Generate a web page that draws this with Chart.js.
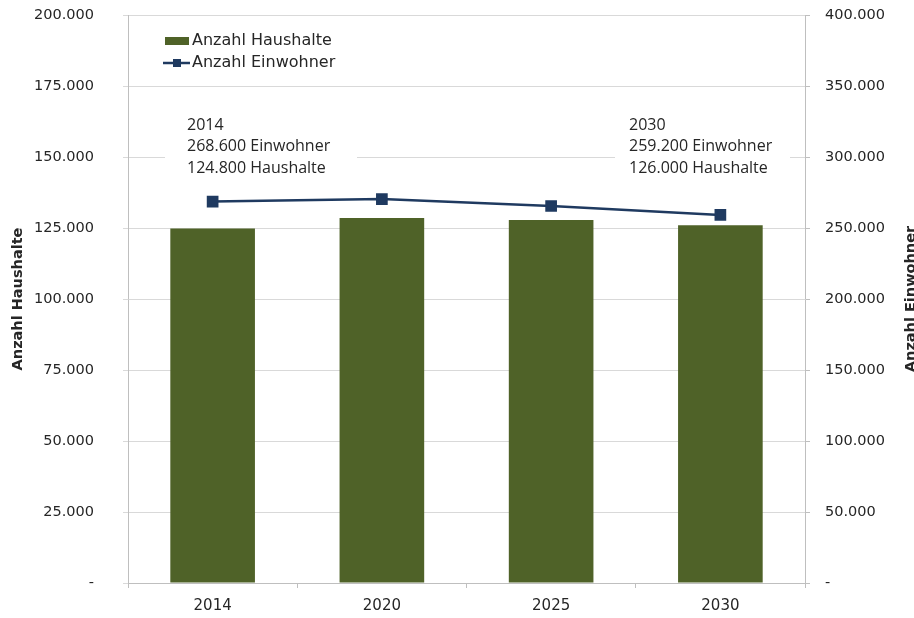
<!DOCTYPE html>
<html>
<head>
<meta charset="utf-8">
<script src="https://cdn.jsdelivr.net/npm/chart.js@4/dist/chart.umd.min.js"></script>
<style>
  html, body { margin: 0; padding: 0; background: #fff; overflow: hidden; }
  #wrap { width: 914px; height: 618px; }
</style>
</head>
<body>
<div id="wrap"><canvas id="chart" width="914" height="618"></canvas></div>
<script>
// data
const years = ['2014', '2020', '2025', '2030'];
const haushalte = [124800, 128500, 127800, 126000];
const einwohner = [268600, 270400, 265500, 259200];
const leftTicks = ['-', '25.000', '50.000', '75.000', '100.000', '125.000', '150.000', '175.000', '200.000'];
const rightTicks = ['-', '50.000', '100.000', '150.000', '200.000', '250.000', '300.000', '350.000', '400.000'];
const noteStart = ['2014', '268.600 Einwohner', '124.800 Haushalte'];
const noteEnd = ['2030', '259.200 Einwohner', '126.000 Haushalte'];

const green = '#4f6228';
const navy = '#1f3a60';
const gridCol = '#d9d9d9';
const axisCol = '#bfbfbf';
const textCol = '#262626';
const tickFont = { family: 'DejaVu Sans', size: 14.5 };

// no extra room for the tick labels, the plot box is fixed
function noPad(scale) {
    scale.paddingTop = 0;
    scale.paddingBottom = 0;
    scale.paddingLeft = 0;
    scale.paddingRight = 0;
}

// legend, notes and right axis title drawn on top
const extras = {
    id: 'extras',
    afterDraw(chart) {
        const ctx = chart.ctx;
        ctx.save();

        // white boxes behind the notes
        ctx.fillStyle = '#fff';
        ctx.fillRect(165, 112, 192, 68);
        ctx.fillRect(615, 112, 175, 68);

        ctx.fillStyle = textCol;
        ctx.font = '16px "Open Sans"';
        ctx.textBaseline = 'middle';
        ctx.textAlign = 'left';
        noteStart.forEach((t, i) => ctx.fillText(t, 187, 125 + i * 21.5));
        noteEnd.forEach((t, i) => ctx.fillText(t, 629, 125 + i * 21.5));

        // legend
        ctx.font = '16px "DejaVu Sans"';
        ctx.fillStyle = green;
        ctx.fillRect(165, 37, 24, 8);
        ctx.strokeStyle = navy;
        ctx.lineWidth = 2.5;
        ctx.beginPath();
        ctx.moveTo(163, 63);
        ctx.lineTo(190, 63);
        ctx.stroke();
        ctx.fillStyle = navy;
        ctx.fillRect(173, 59, 8, 8);
        ctx.fillStyle = textCol;
        ctx.fillText('Anzahl Haushalte', 192, 41);
        ctx.fillText('Anzahl Einwohner', 192, 63);

        // right axis title, reading bottom to top
        ctx.font = 'bold 14.5px "DejaVu Sans"';
        ctx.textAlign = 'center';
        ctx.translate(911, 299);
        ctx.rotate(-Math.PI / 2);
        ctx.fillText('Anzahl Einwohner', 0, 0);
        ctx.restore();
    }
};

new Chart(document.getElementById('chart').getContext('2d'), {
    data: {
        labels: years,
        datasets: [
            {
                type: 'line',
                label: 'Anzahl Einwohner',
                data: einwohner,
                yAxisID: 'y1',
                borderColor: navy,
                backgroundColor: navy,
                borderWidth: 2.5,
                pointStyle: 'rect',
                pointRadius: 6.5,
                pointHoverRadius: 6.5,
                tension: 0,
                order: 0
            },
            {
                type: 'bar',
                label: 'Anzahl Haushalte',
                data: haushalte,
                yAxisID: 'y',
                backgroundColor: green,
                categoryPercentage: 1,
                barPercentage: 0.5,
                order: 1
            }
        ]
    },
    options: {
        responsive: false,
        devicePixelRatio: 1,
        animation: false,
        layout: { padding: { top: 15, left: 0, right: 0, bottom: 0 } },
        plugins: {
            legend: { display: false },
            tooltip: { enabled: false }
        },
        scales: {
            x: {
                offset: true,
                grid: { offset: true, drawOnChartArea: false, color: axisCol, tickLength: 5 },
                border: { color: axisCol },
                ticks: { color: textCol, font: { family: 'DejaVu Sans', size: 15 }, padding: 9 },
                afterFit(scale) { scale.height = 35; noPad(scale); }
            },
            y: {
                position: 'left',
                min: 0,
                max: 200000,
                grid: { color: gridCol, tickLength: 5 },
                border: { color: axisCol },
                ticks: {
                    stepSize: 25000,
                    color: textCol,
                    font: tickFont,
                    padding: 29,
                    callback: (v, i) => leftTicks[i]
                },
                title: {
                    display: true,
                    text: 'Anzahl Haushalte',
                    color: textCol,
                    font: { family: 'DejaVu Sans', size: 14.5, weight: 'bold' },
                    padding: { top: 10, bottom: 0 }
                },
                afterFit(scale) { scale.width = 128; noPad(scale); }
            },
            y1: {
                position: 'right',
                min: 0,
                max: 400000,
                grid: { drawOnChartArea: false, color: axisCol, tickLength: 5 },
                border: { color: axisCol },
                ticks: {
                    stepSize: 50000,
                    color: textCol,
                    font: tickFont,
                    padding: 15,
                    callback: (v, i) => rightTicks[i]
                },
                afterFit(scale) { scale.width = 109; noPad(scale); }
            }
        }
    },
    plugins: [extras]
});
</script>
</body>
</html>
